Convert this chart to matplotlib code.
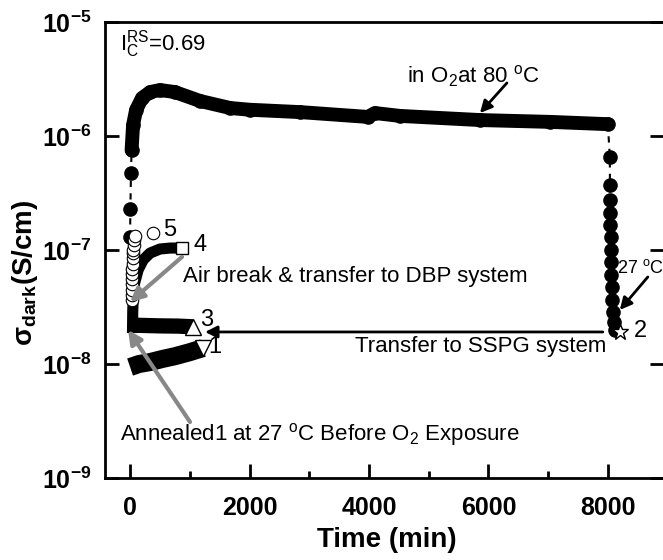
import numpy as np
import matplotlib
matplotlib.use("Agg")
import matplotlib.pyplot as plt
from matplotlib.ticker import FixedLocator, FuncFormatter, MultipleLocator

plt.rcParams['font.family'] = ['Liberation Sans', 'DejaVu Sans']
plt.rcParams['mathtext.fontset'] = 'custom'
plt.rcParams['mathtext.rm'] = 'Liberation Sans'
plt.rcParams['mathtext.it'] = 'Liberation Sans:italic'
plt.rcParams['mathtext.bf'] = 'Liberation Sans:bold'

# main run in O2 at 80 C (filled circles), then cooling to 27 C
main_t = [0, 5, 15, 25, 50, 100, 200, 335, 500, 750, 1170, 1675, 2000, 2850,
          3980, 4100, 4520, 5860, 7030, 8000,
          8033, 8035, 8038, 8040, 8043, 8045, 8050, 8055, 8060, 8065, 8075,
          8090, 8105, 8120]
main_s = [1.3e-7, 2.3e-7, 4.7e-7, 7.5e-7, 1.25e-6, 1.69e-6, 2.15e-6, 2.43e-6,
          2.53e-6, 2.43e-6, 2.03e-6, 1.76e-6, 1.70e-6, 1.62e-6,
          1.47e-6, 1.59e-6, 1.50e-6, 1.38e-6, 1.33e-6, 1.27e-6,
          6.5e-7, 3.7e-7, 2.75e-7, 2.11e-7, 1.66e-7, 1.30e-7, 1.0e-7, 7.85e-8,
          6.04e-8, 4.73e-8, 3.64e-8, 2.86e-8, 2.33e-8, 1.99e-8]
dense_from, dense_to = 3, 20   # part where the circles merge into a band

# run 2 end point (open star)
s2_t = [8200]
s2_s = [1.9e-8]

# run 1 (down triangles)
s1_t = [0, 150, 335, 550, 750, 1000, 1222]
s1_s = [9.4e-9, 1.0e-8, 1.04e-8, 1.11e-8, 1.17e-8, 1.27e-8, 1.38e-8]

# run 3 (up triangles)
s3_t = [0, 200, 500, 800, 1055]
s3_s = [2.2e-8, 2.18e-8, 2.16e-8, 2.15e-8, 2.12e-8]

# run 4 (squares)
s4_t = [40, 45, 55, 75, 135, 220, 335, 500, 670, 870]
s4_s = [1.87e-8, 2.98e-8, 4.0e-8, 5.1e-8, 6.7e-8, 8.2e-8, 9.4e-8, 1.02e-7,
        1.04e-7, 1.04e-7]

# run 5 (open circles)
s5_t = [30, 30, 32, 34, 36, 38, 40, 42, 45, 48, 52, 58, 66, 85, 385]
s5_s = [3.64e-8, 4.04e-8, 4.49e-8, 4.99e-8, 5.54e-8, 6.15e-8, 6.83e-8,
        7.59e-8, 8.43e-8, 9.36e-8, 1.0e-7, 1.11e-7, 1.23e-7, 1.33e-7, 1.41e-7]

xticks = [0, 2000, 4000, 6000, 8000]
yticks = [1e-9, 1e-8, 1e-7, 1e-6, 1e-5]

fig = plt.figure(figsize=(6.63, 5.6), dpi=100)
ax = fig.add_axes([105 / 663, 82 / 560, 559 / 663, 456 / 560])
ax.set_yscale('log')
ax.set_xlim(-420, 8940)
ax.set_ylim(1e-9, 1e-5)

# main series
ax.plot(main_t[dense_from:dense_to], main_s[dense_from:dense_to], '-',
        color='black', lw=10, solid_capstyle='round')
ax.plot(main_t, main_s, '--', color='black', lw=1.5, marker='o', ms=9.5,
        mfc='black', mec='black', dashes=(3, 3))
ax.plot(s2_t, s2_s, linestyle='none', marker='*', ms=12, mfc='white',
        mec='black', mew=1)

# run 1
ax.plot(s1_t, s1_s, '-', color='black', lw=13, solid_capstyle='butt')
ax.plot(s1_t[-1:], s1_s[-1:], linestyle='none', marker='v', ms=11,
        mfc='white', mec='black', mew=1)

# run 3
ax.plot(s3_t, s3_s, '-', color='black', lw=11, solid_capstyle='butt')
ax.plot(s3_t[-1:], s3_s[-1:], linestyle='none', marker='^', ms=11,
        mfc='white', mec='black', mew=1)

# run 4
ax.plot(s4_t, s4_s, '-', color='black', lw=8, solid_capstyle='butt')
ax.plot(s4_t[-1:], s4_s[-1:], linestyle='none', marker='s', ms=8,
        mfc='white', mec='black', mew=1)

# run 5
ax.plot(s5_t, s5_s, linestyle='none', marker='o', ms=9, mfc='white',
        mec='black', mew=0.8)

# run numbers
num_kw = dict(fontsize=17, va='center', ha='center')
ax.text(670, 1.5e-7, '5', **num_kw)
ax.text(1175, 1.1e-7, '4', **num_kw)
ax.text(1290, 2.45e-8, '3', **num_kw)
ax.text(1420, 1.4e-8, '1', **num_kw)
ax.text(8550, 1.95e-8, '2', **num_kw)

# annotations
txt_kw = dict(fontsize=16, va='center', ha='left')
ax.text(-170, 6.4e-6, r'I$_\mathregular{C}^\mathregular{RS}$=0.69', **txt_kw)
ax.text(4636, 3.36e-6, r'in O$_\mathregular{2}$at 80 $^\mathregular{o}$C', **txt_kw)
ax.text(887, 5.8e-8, 'Air break & transfer to DBP system', **txt_kw)
ax.text(3766, 1.41e-8, 'Transfer to SSPG system', **txt_kw)
ax.text(-170, 2.43e-9,
        r'Annealed1 at 27 $^\mathregular{o}$C Before O$_\mathregular{2}$ Exposure',
        **txt_kw)
ax.text(8160, 6.9e-8, r'27 $^\mathregular{o}$C', fontsize=13, va='center',
        ha='left')

black_arrow = dict(arrowstyle='-|>', color='black', lw=2, mutation_scale=18,
                   shrinkA=0, shrinkB=0)
gray_arrow = dict(arrowstyle='-|>', color='#888888', lw=3, mutation_scale=20,
                  shrinkA=0, shrinkB=0)
ax.annotate('', xy=(5858, 1.59e-6), xytext=(6310, 2.92e-6), arrowprops=black_arrow)
ax.annotate('', xy=(8200, 2.98e-8), xytext=(8669, 5.8e-8), arrowprops=black_arrow)
ax.annotate('', xy=(1255, 1.91e-8), xytext=(7916, 1.91e-8), arrowprops=black_arrow)
ax.annotate('', xy=(0, 3.5e-8), xytext=(870, 8.7e-8), arrowprops=gray_arrow)
ax.annotate('', xy=(-33, 1.99e-8), xytext=(1004, 3.1e-9), arrowprops=gray_arrow)

# axes styling
ax.xaxis.set_major_locator(FixedLocator(xticks))
ax.xaxis.set_minor_locator(MultipleLocator(1000))
ax.yaxis.set_major_locator(FixedLocator(yticks))
ax.yaxis.set_minor_locator(FixedLocator([]))
ax.xaxis.set_major_formatter(FuncFormatter(lambda v, p: f'{int(v)}'))
ax.yaxis.set_major_formatter(
    FuncFormatter(lambda v, p: r'$\mathbf{10^{%d}}$' % round(np.log10(v))))
ax.tick_params(which='both', direction='in', top=False, right=True,
               width=2, labelsize=18)
ax.tick_params(which='major', length=10)
ax.tick_params(which='minor', length=5)
ax.tick_params(axis='x', pad=13)
ax.tick_params(axis='y', pad=10)
for lab in ax.get_xticklabels():
    lab.set_fontweight('bold')
for sp in ax.spines.values():
    sp.set_linewidth(2)

fig.text(387 / 663, 1 - 540 / 560, 'Time (min)', fontsize=20, fontweight='bold',
         ha='center', va='center')
fig.text(25 / 663, 1 - 273 / 560, r'$\mathbf{\sigma_{dark}}$(S/cm)', fontsize=20,
         fontweight='bold', rotation=90, ha='center', va='center')

fig.savefig('out.png', dpi=100)
